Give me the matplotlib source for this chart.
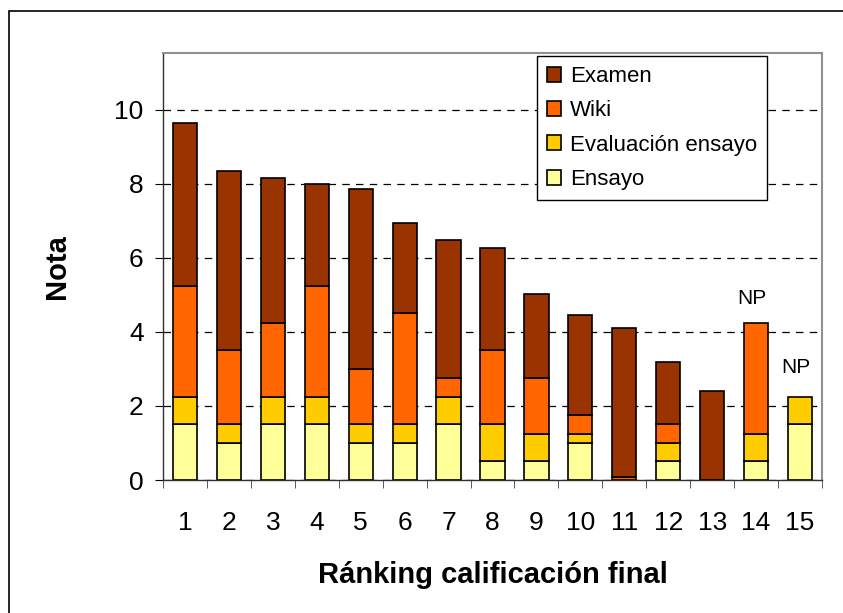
import matplotlib
matplotlib.use("Agg")
import matplotlib.pyplot as plt
import numpy as np
from matplotlib.patches import Rectangle

plt.rcParams['font.family'] = ['Liberation Sans', 'DejaVu Sans']

# ranking 1..15, stacked components of the final mark
ranking = np.arange(1, 16)
ensayo = [1.5, 1.0, 1.5, 1.5, 1.0, 1.0, 1.5, 0.5, 0.5, 1.0, 0.0, 0.5, 0.0, 0.5, 1.5]
eval_ensayo = [0.75, 0.5, 0.75, 0.75, 0.5, 0.5, 0.75, 1.0, 0.75, 0.25, 0.0, 0.5, 0.0, 0.75, 0.75]
wiki = [3.0, 2.0, 2.0, 3.0, 1.5, 3.0, 0.5, 2.0, 1.5, 0.5, 0.08, 0.5, 0.0, 3.0, 0.0]
examen = [4.4, 4.85, 3.92, 2.75, 4.87, 2.45, 3.73, 2.76, 2.27, 2.7, 4.02, 1.69, 2.41, 0.0, 0.0]
np_labels = {14: 4.9, 15: 3.05}

colors = {'Ensayo': '#FFFF99', 'Evaluación ensayo': '#FFCC00',
          'Wiki': '#FF6600', 'Examen': '#993300'}

fig = plt.figure(figsize=(8.43, 6.13), dpi=100)
ax = fig.add_axes([163 / 843, 1 - 480 / 613, 659 / 843, 427 / 613])

# outer chart frame (runs off the right and bottom of the picture)
fig.add_artist(Rectangle((9 / 843, -0.05), 1.2, 1 - 11 / 613 + 0.05,
                         transform=fig.transFigure, fill=False,
                         edgecolor='black', linewidth=1.2))

w = 0.55
bottom = np.zeros(len(ranking))
handles = {}
for name, vals in [('Ensayo', ensayo), ('Evaluación ensayo', eval_ensayo),
                   ('Wiki', wiki), ('Examen', examen)]:
    vals = np.array(vals)
    mask = vals > 0
    b = ax.bar(ranking[mask], vals[mask], w, bottom=bottom[mask],
               color=colors[name], edgecolor='black', linewidth=1.2,
               label=name, zorder=3)
    handles[name] = b
    bottom += vals

for x, y in np_labels.items():
    ax.text(x - 0.1, y, 'NP', ha='center', va='center', fontsize=15)

ax.set_xlim(0.5, 15.5)
ax.set_ylim(0, 11.54)
ax.set_yticks([0, 2, 4, 6, 8, 10])
ax.set_xticks(ranking)
ax.set_xticks(np.arange(0.5, 16, 1), minor=True)
ax.tick_params(axis='x', which='major', length=0, pad=22, labelsize=19)
ax.tick_params(axis='x', which='minor', length=6, direction='out', color='#404040')
ax.tick_params(axis='y', length=6, direction='out', pad=8, labelsize=19)

ax.yaxis.grid(True, color='black', linestyle=(0, (6, 5)), linewidth=0.9)
ax.set_axisbelow(True)
for s in ['top', 'right']:
    ax.spines[s].set_color('#909090')
    ax.spines[s].set_linewidth(1.5)
for s in ['left', 'bottom']:
    ax.spines[s].set_color('#303030')
    ax.spines[s].set_linewidth(1.0)

ax.set_xlabel('Ránking calificación final', fontsize=21, fontweight='bold')
ax.set_ylabel('Nota', fontsize=21, fontweight='bold')
ax.xaxis.set_label_coords(0.5, -0.19)
ax.yaxis.set_label_coords(-0.14, 0.5)

order = ['Examen', 'Wiki', 'Evaluación ensayo', 'Ensayo']
leg = ax.legend([handles[k] for k in order], order, loc='upper left',
                bbox_to_anchor=(0.5675, 0.993), borderaxespad=0,
                fontsize=16, handlelength=0.65, handleheight=0.65,
                handletextpad=0.4, labelspacing=0.6, fancybox=False,
                framealpha=1, edgecolor='black', borderpad=0.45)
leg.get_frame().set_linewidth(1.0)
leg.set_zorder(5)

fig.savefig('out.png', dpi=100)
